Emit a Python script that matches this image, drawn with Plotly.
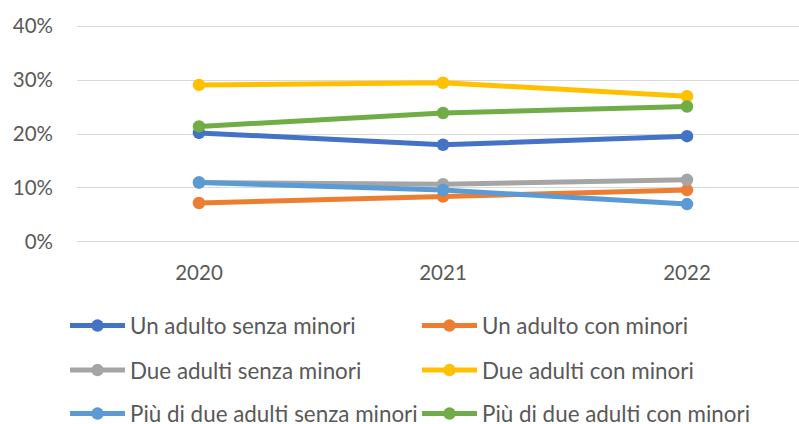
import plotly.graph_objects as go

years = ["2020", "2021", "2022"]
series_names = [
    "Un adulto senza minori",
    "Un adulto con minori",
    "Due adulti senza minori",
    "Due adulti con minori",
    "Più di due adulti senza minori",
    "Più di due adulti con minori",
]
un_adulto_senza = [0.202, 0.180, 0.196]
un_adulto_con = [0.072, 0.084, 0.096]
due_adulti_senza = [0.110, 0.107, 0.115]
due_adulti_con = [0.291, 0.295, 0.270]
piu_due_senza = [0.110, 0.096, 0.070]
piu_due_con = [0.214, 0.239, 0.251]
y_ticks = [0, 0.1, 0.2, 0.3, 0.4]
y_tick_labels = ["0%", "10%", "20%", "30%", "40%"]

values = [un_adulto_senza, un_adulto_con, due_adulti_senza,
          due_adulti_con, piu_due_senza, piu_due_con]
colors = ["#4472C4", "#ED7D31", "#A5A5A5", "#FFC000", "#5B9BD5", "#70AD47"]

W, H = 799, 424
FONT = "Lato"
col_x = [65, 417]
row_y = [326, 370.5, 414]

fig = go.Figure()
xs = list(range(len(years)))
legends = {}
for i, (name, vals, col) in enumerate(zip(series_names, values, colors)):
    lid = "legend" if i == 0 else f"legend{i + 1}"
    fig.add_trace(go.Scatter(
        x=xs, y=vals, name=name, mode="lines+markers",
        line=dict(color=col, width=5),
        marker=dict(color=col, size=12.5),
        legend=lid,
    ))
    legends[lid] = dict(
        orientation="h", xref="container", yref="container",
        x=col_x[i % 2] / W, xanchor="left",
        y=1 - row_y[i // 2] / H, yanchor="middle",
        font=dict(family=FONT, size=22.4, color="#595959"),
        bgcolor="rgba(0,0,0,0)", itemwidth=55,
    )

fig.update_layout(
    width=W, height=H,
    margin=dict(l=77, r=0, t=24, b=180),
    paper_bgcolor="white", plot_bgcolor="white",
    font=dict(family=FONT, color="#595959"),
    showlegend=True,
    xaxis=dict(
        range=[-0.5, 2.459], tickmode="array", tickvals=xs, ticktext=years,
        showgrid=False, zeroline=False, showline=False,
        tickfont=dict(family=FONT, size=20.5, color="#595959"),
        ticks="", ticklabelstandoff=14,
    ),
    yaxis=dict(
        range=[-0.004, 0.404], tickmode="array", tickvals=y_ticks,
        ticktext=y_tick_labels,
        showgrid=True, gridcolor="#D9D9D9", gridwidth=1.3,
        zeroline=False, showline=False,
        tickfont=dict(family=FONT, size=20.5, color="#595959"),
        ticks="", ticklabelstandoff=23,
    ),
    **legends,
)

fig.write_html("out.html", config={"displayModeBar": False},
               post_script="document.body.style.margin='0';")
